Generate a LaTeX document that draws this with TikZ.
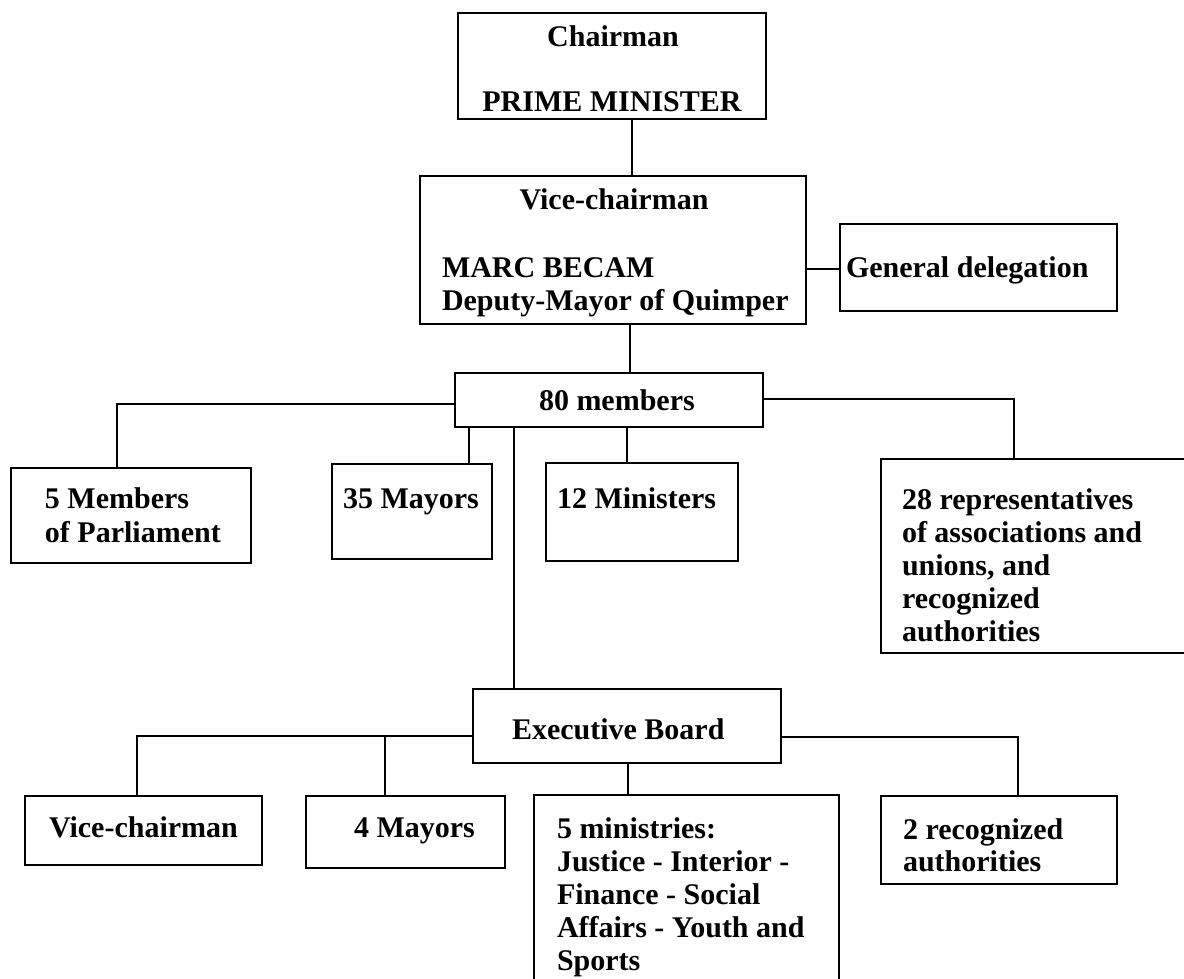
\documentclass[tikz,border=0pt]{standalone}
\usepackage{fontspec}
\setmainfont{Liberation Serif}
\tikzset{
  box/.style={draw, rectangle, line width=1.8pt, inner sep=0pt, outer sep=0pt},
  lbl/.style={inner sep=0pt, outer sep=0pt, anchor=base west, font=\fontsize{30}{33}\selectfont\bfseries},
  lblc/.style={lbl, anchor=base},
  link/.style={line width=1.8pt, line join=miter}
}
\newcommand\mkbox[5]{\node[box, minimum width={#4-#2}, minimum height={#5-#3}] (#1) at ({(#2+#4)/2},{(#3+#5)/2}) {};}
\begin{document}
\begin{tikzpicture}[x=1pt,y=-1pt]
\useasboundingbox[fill=white] (0,0) rectangle (1184,979);
% boxes
\mkbox{chair}{458}{13}{766}{119}
\mkbox{vice}{420}{176}{806}{324}
\mkbox{gd}{840}{224}{1117}{311}
\mkbox{mem}{455}{373}{763}{427}
\mkbox{mp}{11}{468}{251}{563}
\mkbox{may}{332}{464}{492}{559}
\mkbox{min}{546}{463}{738}{561}
\mkbox{rep}{881}{459}{1200}{653}
\mkbox{eb}{473}{689}{781}{763}
\mkbox{vc}{25}{796}{262}{865}
\mkbox{mayf}{306}{796}{505}{868}
\mkbox{mins}{534}{795}{839}{995}
\mkbox{rec}{881}{796}{1117}{884}
% texts
\node[lblc] (t1) at (613,47) {Chairman};
\node[lblc] (t2) at (612,112) {PRIME MINISTER};
\node[lblc] (t3) at (614,210) {Vice-chairman};
\node[lbl] (t4) at (442,277) {MARC BECAM};
\node[lbl] (t5) at (442,310) {Deputy-Mayor of Quimper};
\node[lbl] (t6) at (846,277) {General delegation};
\node[lbl] (t7) at (539,410) {80 members};
\node[lbl] (t8) at (45,508) {5 Members};
\node[lbl] (t9) at (45,542) {of Parliament};
\node[lbl] (t10) at (343,508) {35 Mayors};
\node[lbl] (t11) at (557,508) {12 Ministers};
\node[lbl] (t12) at (902,509) {28 representatives};
\node[lbl] (t13) at (902,542) {of associations and};
\node[lbl] (t14) at (902,575) {unions, and};
\node[lbl] (t15) at (902,608) {recognized};
\node[lbl] (t16) at (902,641) {authorities};
\node[lbl] (t17) at (512,739) {Executive Board};
\node[lbl] (t18) at (49,837) {Vice-chairman};
\node[lbl] (t19) at (354,837) {4 Mayors};
\node[lbl] (t20) at (557,838) {5 ministries:};
\node[lbl] (t21) at (557,871) {Justice - Interior -};
\node[lbl] (t22) at (557,904) {Finance - Social};
\node[lbl] (t23) at (557,937) {Affairs - Youth and};
\node[lbl] (t24) at (557,970) {Sports};
\node[lbl] (t25) at (903,839) {2 recognized};
\node[lbl] (t26) at (903,871) {authorities};
% connectors
\coordinate (c1) at ([xshift=20pt]chair.south);
\draw[link] (c1) -- (c1 |- vice.north);
\coordinate (c2) at ([xshift=17pt]vice.south);
\draw[link] (c2) -- (c2 |- mem.north);
\coordinate (c2b) at ([yshift=-1.5pt]gd.west);
\draw[link] (c2b) -- (c2b -| vice.east);
\coordinate (c3) at ([yshift=-4pt]mem.west);
\coordinate (c3b) at ([xshift=-14pt]mp.north);
\draw[link] (c3) -| (c3b);
\coordinate (c4) at ([xshift=-140pt]mem.south);
\draw[link] (c4) -- (c4 |- may.north);
\coordinate (c5) at ([xshift=-95pt]mem.south);
\draw[link] (c5) -- (c5 |- eb.north);
\coordinate (c6) at ([xshift=18pt]mem.south);
\draw[link] (c6) -- (c6 |- min.north);
\coordinate (c7) at ([yshift=1pt]mem.east);
\coordinate (c7b) at ([xshift=-26.5pt]rep.north);
\draw[link] (c7) -| (c7b);
\coordinate (c8) at ([yshift=-10pt]eb.west);
\coordinate (c8b) at ([xshift=-6.5pt]vc.north);
\draw[link] (c8) -| (c8b);
\coordinate (c9) at ([xshift=-20.5pt]mayf.north);
\draw[link] (c9) -- (c9 |- c8);
\coordinate (c10) at ([xshift=1pt]eb.south);
\draw[link] (c10) -- (c10 |- mins.north);
\coordinate (c11) at ([yshift=-11pt]eb.east);
\coordinate (c11b) at ([xshift=19pt]rec.north);
\draw[link] (c11) -| (c11b);
\end{tikzpicture}
\end{document}
